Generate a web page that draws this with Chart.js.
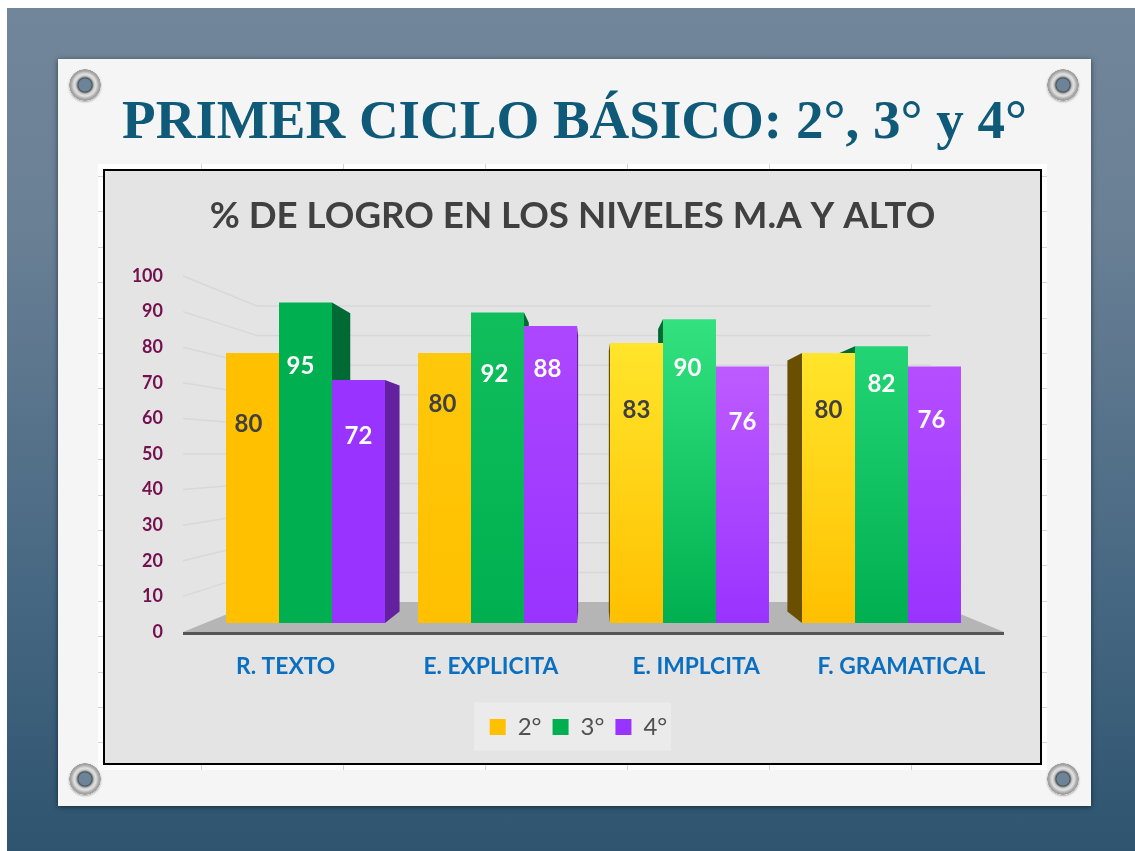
<!DOCTYPE html>
<html lang="es">
<head>
<meta charset="utf-8">
<title>Primer ciclo básico</title>
<script src="https://cdn.jsdelivr.net/npm/chart.js@4/dist/chart.umd.min.js"></script>
<style>
html,body{margin:0;padding:0;background:#fff;width:1135px;height:851px;overflow:hidden}
#bg{position:absolute;left:7px;top:8px;width:1128px;height:843px;background:linear-gradient(180deg,#71869A 0%,#6A8095 25%,#4A6A84 65%,#2E5470 100%)}
#card{position:absolute;left:58px;top:59px;width:1033px;height:747px;background:#F5F5F5;box-shadow:0 1px 5px rgba(0,0,0,.55)}
#heading{position:absolute;left:58px;top:84px;width:1033px;text-align:center;font:bold 55px/72px "Liberation Serif",serif;color:#0E5A78;white-space:nowrap}
#halo{position:absolute;left:98px;top:164px;width:949px;height:606px;background-color:#fff;
background-image:repeating-linear-gradient(90deg,transparent 0,transparent 103px,#d4d4d4 103px,#d4d4d4 104px,transparent 104px,transparent 142px),repeating-linear-gradient(180deg,transparent 0,transparent 12px,#d4d4d4 12px,#d4d4d4 13px,transparent 13px,transparent 35.4px)}
#box{position:absolute;left:103px;top:169px;width:935px;height:592px;border:2px solid #000;background:#E4E4E4}
#box canvas{position:absolute;left:0;top:0}
.gr{position:absolute;width:32px;height:32px;border-radius:50%;background:radial-gradient(circle at 50% 50%,#6D8498 0,#6D8498 6px,#46565F 7px,#8A8A8A 8px,#C8C8C8 9px,#E2E2E2 11px,#A8A8A8 14px,#9A9A9A 15.5px,rgba(0,0,0,0) 16px);box-shadow:0 1px 2px rgba(0,0,0,.3)}
</style>
</head>
<body>
<div id="bg"></div>
<div id="card"></div>
<div class="gr" style="left:69px;top:69px"></div>
<div class="gr" style="left:1047px;top:69px"></div>
<div class="gr" style="left:69px;top:763px"></div>
<div class="gr" style="left:1047px;top:763px"></div>
<div id="heading">PRIMER CICLO BÁSICO: 2°, 3° y 4°</div>
<div id="halo"></div>
<div id="box"><canvas id="c" width="935" height="592" style="width:935px;height:592px"></canvas></div>
<script>
const categories = ["R. TEXTO", "E. EXPLICITA", "E. IMPLCITA", "F. GRAMATICAL"];
const seriesNames = ["2°", "3°", "4°"];
const values2 = [80, 80, 83, 80];
const values3 = [95, 92, 90, 82];
const values4 = [72, 88, 76, 76];
const axisTicks = [0, 10, 20, 30, 40, 50, 60, 70, 80, 90, 100];

const FONT = 'Lato, "Open Sans", sans-serif';
const baseColors = ["#FFC000", "#00B050", "#9933FF"];
const sideColors = ["#6B4F00", "#006A35", "#63209F"];
const topColors = [
  [null, "#FFC80A", "#FFE52B", "#FFE52B"],
  [null, "#10BE5C", "#33E27F", "#23D474"],
  [null, "#AD47FF", "#BE5BFF", "#B54EFF"]
];
const labelColors = ["#404040", "#FFFFFF", "#FFFFFF"];
/* data-label placement: px from bar top, px from bar centre */
const labelDrop = [[71, 51, 67, 57], [64, 62, 49, 38], [56, 43, 56, 54]];
const labelShift = [[-4, -2, 0, 0], [-5, -3, -2, 0], [0, -3, 0, -3]];

/* perspective of the fake 3D box */
const VP = {x: 488, y: 288, k: 0.07};
const WALL = {left: 74, right: 73, depth: 30};
const LEGEND_BOX = {width: 197, height: 48};

function fillFor(ds) {
  return ctx => {
    const i = ctx.dataIndex;
    if (i === undefined || !topColors[ds][i] || !ctx.chart.chartArea) return baseColors[ds];
    const y = ctx.chart.scales.yBars;
    const v = ctx.dataset.data[i].y;
    const g = ctx.chart.ctx.createLinearGradient(0, y.getPixelForValue(v), 0, y.getPixelForValue(0));
    g.addColorStop(0, topColors[ds][i]);
    g.addColorStop(1, baseColors[ds]);
    return g;
  };
}

const scene = {
  id: "scene",
  afterLayout(chart) { chart.legend.left += 12; },
  beforeDraw(chart) {
    const c = chart.ctx, L = chart.legend;
    c.save();
    c.fillStyle = "#EBEBEB";
    c.fillRect((chart.width - LEGEND_BOX.width) / 2, L.top + L.height / 2 - LEGEND_BOX.height / 2, LEGEND_BOX.width, LEGEND_BOX.height);
    c.restore();
  },
  beforeDatasetsDraw(chart) {
    const c = chart.ctx, A = chart.chartArea, y = chart.scales.y;
    const wl = A.left + WALL.left, wr = A.right - WALL.right;
    const toWall = p => A.bottom - WALL.depth - (A.bottom - p) * (A.bottom - A.top - 60) / (A.bottom - A.top);
    c.save();
    /* wall and side grid */
    c.strokeStyle = "#D8D8D8";
    c.lineWidth = 1.5;
    axisTicks.slice(1).forEach(t => {
      const p = y.getPixelForValue(t), w = toWall(p);
      c.beginPath(); c.moveTo(A.left, p); c.lineTo(wl, w); c.lineTo(wr, w); c.stroke();
    });
    /* floor */
    c.fillStyle = "#B5B5B5";
    c.beginPath();
    c.moveTo(A.left, A.bottom); c.lineTo(A.right, A.bottom);
    c.lineTo(wr, A.bottom - WALL.depth); c.lineTo(wl, A.bottom - WALL.depth);
    c.closePath(); c.fill();
    c.fillStyle = "#555555";
    c.fillRect(A.left, A.bottom, A.right - A.left, 3);
    /* bar side faces */
    chart.data.datasets.forEach((d, ds) => {
      chart.getDatasetMeta(ds).data.forEach(b => {
        const half = b.width / 2;
        const edges = [];
        if (b.x + half < VP.x) edges.push(b.x + half);
        if (b.x - half > VP.x) edges.push(b.x - half);
        edges.forEach(e => {
          const ex = e + (VP.x - e) * VP.k;
          const ty = b.y + (VP.y - b.y) * VP.k, by = b.base + (VP.y - b.base) * VP.k;
          c.fillStyle = sideColors[ds];
          c.beginPath();
          c.moveTo(e, b.y); c.lineTo(ex, ty); c.lineTo(ex, by); c.lineTo(e, b.base);
          c.closePath(); c.fill();
        });
      });
    });
    c.restore();
  },
  afterDatasetsDraw(chart) {
    const c = chart.ctx;
    c.save();
    c.font = "bold 24px " + FONT;
    c.textAlign = "center";
    c.textBaseline = "middle";
    chart.data.datasets.forEach((d, ds) => {
      chart.getDatasetMeta(ds).data.forEach((b, i) => {
        c.fillStyle = labelColors[ds];
        c.fillText(String(d.data[i].y), b.x + labelShift[ds][i], b.y + labelDrop[ds][i]);
      });
    });
    c.restore();
  }
};

const seriesValues = [values2, values3, values4];
new Chart(document.getElementById("c"), {
  type: "bar",
  data: {
    labels: categories,
    datasets: seriesNames.map((n, ds) => ({
      label: n,
      data: seriesValues[ds].map((v, i) => ({x: i, y: v})),
      xAxisID: "xBars",
      yAxisID: "yBars",
      backgroundColor: fillFor(ds),
      borderWidth: 0,
      categoryPercentage: 0.828,
      barPercentage: 1
    }))
  },
  plugins: [scene],
  options: {
    responsive: false,
    animation: false,
    layout: {padding: {left: 0, right: 0, top: 0, bottom: 14}},
    scales: {
      xBars: {type: "linear", axis: "x", display: false, offset: false, min: -0.638, max: 3.638,
        ticks: {stepSize: 1, includeBounds: false}, grid: {display: false}},
      yBars: {type: "linear", axis: "y", display: false, min: -2.67, max: 102.82, grid: {display: false}},
      x: {
        type: "category", position: "bottom", offset: true,
        grid: {display: false, drawTicks: false}, border: {display: false},
        ticks: {color: "#0A6FC0", font: {family: FONT, weight: "bold", size: 22.8}, padding: 21, maxRotation: 0},
        afterFit(s) { s.height = 72; }
      },
      y: {
        type: "linear", position: "left", min: 0, max: 100,
        grid: {display: false, drawTicks: false}, border: {display: false},
        ticks: {stepSize: 10, color: "#74104E", font: {family: FONT, weight: "bold", size: 18}, padding: 20},
        afterFit(s) { s.width = 78; }
      },
      yRightGap: {
        type: "linear", axis: "y", position: "right", min: 0, max: 100,
        grid: {display: false, drawTicks: false}, border: {display: false},
        ticks: {display: false},
        afterFit(s) { s.width = 36; }
      }
    },
    plugins: {
      tooltip: {enabled: false},
      title: {
        display: true, text: "% DE LOGRO EN LOS NIVELES M.A Y ALTO",
        color: "#404040", font: {family: FONT, weight: "bold", size: 36.7, lineHeight: 1.2},
        padding: {top: 23, bottom: 37.96}
      },
      legend: {
        position: "bottom",
        onClick: null,
        labels: {boxWidth: 16, boxHeight: 16, padding: 11, color: "#505050", font: {family: FONT, size: 24}}
      }
    }
  }
});
</script>
</body>
</html>
